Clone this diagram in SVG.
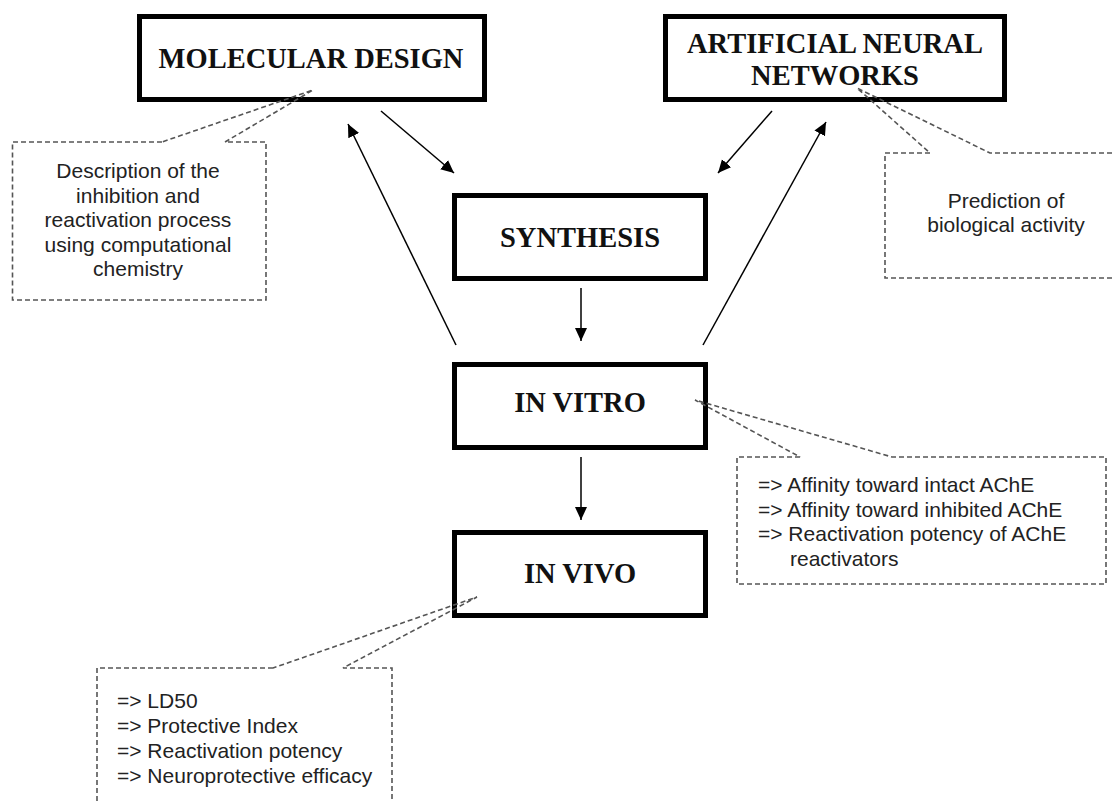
<svg xmlns="http://www.w3.org/2000/svg" width="1113" height="802" viewBox="0 0 1113 802">
<style>
.box{fill:#fff;stroke:#000;stroke-width:5}
.title{font-family:"Liberation Serif","Times New Roman",serif;font-weight:bold;font-size:28.5px;fill:#111;text-anchor:middle}
.call{fill:none;stroke:#555;stroke-width:1.6;stroke-dasharray:5 3}
.note{font-family:"Liberation Sans",Arial,sans-serif;font-size:21px;fill:#222}
.mid{text-anchor:middle}
.conn{stroke:#000;stroke-width:1.5;fill:none;marker-end:url(#ah)}
</style>
<defs>
<marker id="ah" markerUnits="userSpaceOnUse" markerWidth="14" markerHeight="14" viewBox="0 0 14 14" refX="13" refY="7" orient="auto">
<path d="M0,1 L13,7 L0,13 Z" fill="#000"/>
</marker>
</defs>
<rect width="1113" height="802" fill="#fff"/>

<g id="connectors">
<line class="conn" x1="381" y1="111" x2="454" y2="173"/>
<line class="conn" x1="456" y1="345" x2="348" y2="124"/>
<line class="conn" x1="772" y1="111" x2="718" y2="173"/>
<line class="conn" x1="703" y1="345" x2="826" y2="122"/>
<line class="conn" x1="581" y1="288" x2="581" y2="341"/>
<line class="conn" x1="581" y1="457" x2="581" y2="520"/>
</g>

<g id="molecular-design">
<rect class="box" x="139.5" y="16.5" width="345" height="83"/>
<text class="title" x="311" y="68">MOLECULAR DESIGN</text>
</g>

<g id="ann">
<rect class="box" x="665.5" y="16.5" width="339" height="83"/>
<text class="title" x="835" y="53">ARTIFICIAL NEURAL</text>
<text class="title" x="835" y="85">NETWORKS</text>
</g>

<g id="synthesis">
<rect class="box" x="454.5" y="195.5" width="251" height="83"/>
<text class="title" x="580" y="247">SYNTHESIS</text>
</g>

<g id="in-vitro">
<rect class="box" x="454.5" y="364.5" width="251" height="83"/>
<text class="title" x="580" y="412">IN VITRO</text>
</g>

<g id="in-vivo">
<rect class="box" x="454.5" y="532.5" width="251" height="83"/>
<text class="title" x="580" y="583">IN VIVO</text>
</g>

<g id="note-design">
<path class="call" d="M162,142 L12.5,142 L12.5,300 L266,300 L266,142 L225,142 L313,90 Z"/>
<text class="note mid" x="138" y="178">Description of the</text>
<text class="note mid" x="138" y="202.5">inhibition and</text>
<text class="note mid" x="138" y="227">reactivation process</text>
<text class="note mid" x="138" y="251.5">using computational</text>
<text class="note mid" x="138" y="276">chemistry</text>
</g>

<g id="note-ann">
<path class="call" d="M930,153 L885,153 L885,278 L1127,278 L1127,153 L990,153 L857,88 Z"/>
<text class="note mid" x="1006" y="208">Prediction of</text>
<text class="note mid" x="1006" y="232">biological activity</text>
</g>

<g id="note-vitro">
<path class="call" d="M800,457 L737,457 L737,584 L1106,584 L1106,457 L892,457 L695,400 Z"/>
<text class="note" x="758" y="492">=&gt; Affinity toward intact AChE</text>
<text class="note" x="758" y="516.5">=&gt; Affinity toward inhibited AChE</text>
<text class="note" x="758" y="541">=&gt; Reactivation potency of AChE</text>
<text class="note" x="790" y="565.5">reactivators</text>
</g>

<g id="note-vivo">
<path class="call" d="M273,668 L97,668 L97,830 L392,830 L392,668 L343,668 L477,597 Z"/>
<text class="note" x="117" y="708">=&gt; LD50</text>
<text class="note" x="117" y="733">=&gt; Protective Index</text>
<text class="note" x="117" y="758">=&gt; Reactivation potency</text>
<text class="note" x="117" y="783">=&gt; Neuroprotective efficacy</text>
</g>
</svg>
